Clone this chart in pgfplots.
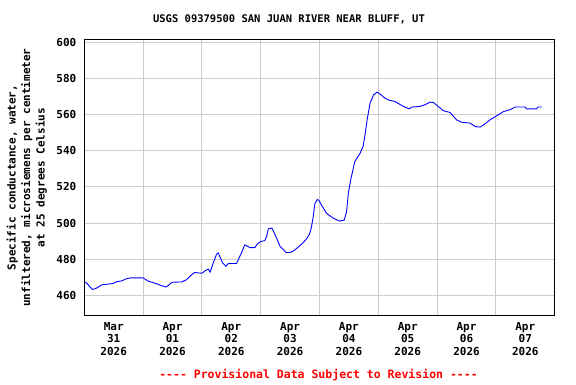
\documentclass[border=0pt]{standalone}
\usepackage{fontspec}
\setmonofont{DejaVu Sans Mono}
\usepackage{pgfplots}
\pgfplotsset{compat=1.18}
\definecolor{gridgray}{RGB}{204,204,204}
\definecolor{usgsred}{RGB}{255,0,0}
\begin{document}
\begin{tikzpicture}
\begin{axis}[
  at={(0pt,0pt)}, anchor=south west,
  scale only axis, width=470.4pt, height=276.4pt,
  xmin=0, xmax=8, ymin=448.7, ymax=601.7,
  axis line style={black, line width=1.3pt},
  xtick={0.5,1.5,...,7.5},
  xticklabels={{Mar\\31\\2026},{Apr\\01\\2026},{Apr\\02\\2026},{Apr\\03\\2026},{Apr\\04\\2026},{Apr\\05\\2026},{Apr\\06\\2026},{Apr\\07\\2026}},
  minor xtick={1,...,7},
  xminorgrids=true, xmajorgrids=false,
  ytick={460,480,...,600},
  ymajorgrids=true,
  grid style={gridgray, line width=0.9pt},
  minor grid style={gridgray, line width=0.9pt},
  major tick length=0pt, minor tick length=0pt,
  /pgf/number format/assume math mode=true,
  /pgf/number format/set thousands separator={},
  tick label style={font=\fontsize{11}{12.7}\selectfont\ttfamily\bfseries},
  xticklabel style={align=center, yshift=-3pt},
  yticklabel style={xshift=-4.5pt},
  clip=true,
]
\addplot[color={rgb,255:red,0;green,0;blue,255}, line width=0.9pt] coordinates {
(0.01,467.4) (0.05,466.5) (0.10,464.5) (0.14,463.2) (0.21,464.0) (0.30,465.8)
(0.49,466.5) (0.55,467.5) (0.64,468.0) (0.70,469.0) (0.78,469.6) (1.00,469.6)
(1.09,467.8) (1.23,466.4) (1.30,465.5) (1.39,464.6) (1.45,466.0) (1.49,467.2)
(1.66,467.4) (1.74,468.7) (1.83,471.5) (1.88,472.6) (2.00,472.2) (2.07,473.9)
(2.11,474.5) (2.14,472.8) (2.19,477.6) (2.25,482.8) (2.28,483.4) (2.35,478.0)
(2.41,476.1) (2.45,477.6) (2.59,477.6) (2.62,479.8) (2.68,484.0) (2.73,487.9)
(2.82,486.4) (2.90,486.4) (2.94,488.3) (3.00,489.8) (3.07,490.2) (3.10,492.6)
(3.13,496.8) (3.19,497.2) (3.22,495.3) (3.27,491.7) (3.33,487.0) (3.39,485.2)
(3.43,483.7) (3.50,483.7) (3.56,484.6) (3.65,487.0) (3.73,489.4) (3.79,491.7)
(3.83,493.9) (3.86,497.2) (3.89,502.8) (3.92,510.5) (3.96,513.0) (3.99,512.6)
(4.04,509.6) (4.12,505.3) (4.24,502.6) (4.34,501.1) (4.42,501.6) (4.46,506.2)
(4.49,516.4) (4.53,523.8) (4.60,534.0) (4.69,538.6) (4.74,542.3) (4.77,547.9)
(4.81,557.1) (4.86,566.4) (4.92,570.9) (4.98,572.5) (5.03,571.4) (5.11,569.2)
(5.18,568.0) (5.28,567.3) (5.35,566.0) (5.43,564.5) (5.53,563.2) (5.57,564.2)
(5.70,564.5) (5.79,565.4) (5.88,566.9) (5.94,566.7) (6.02,564.5) (6.11,562.1)
(6.22,561.2) (6.33,557.1) (6.42,555.8) (6.56,555.3) (6.65,553.4) (6.73,553.1)
(6.79,554.3) (6.90,557.1) (7.01,559.3) (7.13,561.7) (7.24,562.7) (7.33,564.2)
(7.50,564.2) (7.52,563.2) (7.69,563.2) (7.72,564.2) (7.78,564.2)
};
\end{axis}
\path[use as bounding box] (-84.3pt,-68.3pt) rectangle (491.7pt,315.7pt);
\node[font=\fontsize{10.5}{12}\selectfont\ttfamily\bfseries] at (204.7pt,296.7pt) {USGS 09379500 SAN JUAN RIVER NEAR BLUFF, UT};
\node[font=\fontsize{11}{14.5}\selectfont\ttfamily\bfseries, rotate=90, align=center] at (-57.6pt,138.2pt) {Specific conductance, water,\\unfiltered, microsiemens per centimeter\\at 25 degrees Celsius};
\node[font=\fontsize{11.5}{13}\selectfont\ttfamily\bfseries, text=usgsred] at (234.2pt,-59.3pt) {---- Provisional Data Subject to Revision ----};
\end{tikzpicture}
\end{document}
